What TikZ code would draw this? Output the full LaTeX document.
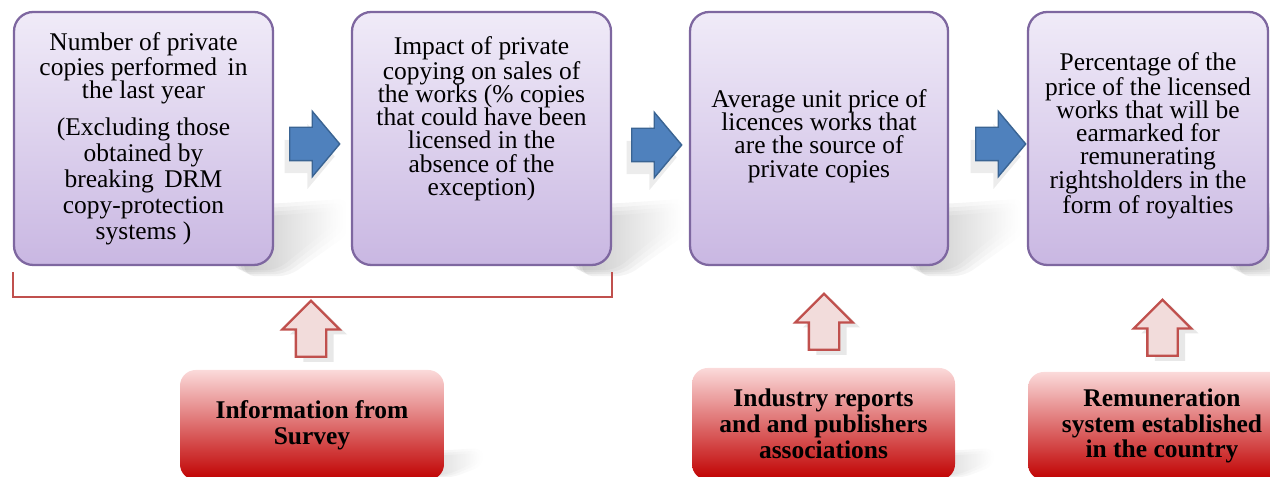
\documentclass[tikz,border=0pt]{standalone}
\usepackage{fontspec}
\setmainfont{Liberation Serif}
\usetikzlibrary{positioning,shadows,shapes.arrows,calc,backgrounds}
\definecolor{lilactop}{HTML}{F0EBF8}
\definecolor{lilacbot}{HTML}{C9B7E2}
\definecolor{lilacline}{HTML}{7E67A0}
\definecolor{stepblue}{HTML}{4F81BD}
\definecolor{stepblueline}{HTML}{3A6493}
\definecolor{pinkfill}{HTML}{F2DCDB}
\definecolor{redline}{HTML}{C0504D}
\definecolor{redtop}{HTML}{FBDADA}
\definecolor{redbot}{HTML}{C00000}

\begin{document}
\begin{tikzpicture}[
    infobox/.style={rectangle, rounded corners=11pt, draw=lilacline, line width=1.3pt,
      top color=lilactop, bottom color=lilacbot, minimum height=5.06cm},
    infotext/.style={align=center, inner sep=0pt, font=\fontsize{14.5}{13.2}\selectfont},
    srcbox/.style={rectangle, rounded corners=9pt, top color=redtop, bottom color=redbot,
      align=center, font=\bfseries\fontsize{14.5}{14.7}\selectfont},
    boxshadow/.style={left color=black!55, right color=white, draw=none, opacity=.12,
      rounded corners=6pt},
    nextarrow/.style={single arrow, anchor=tail, draw=stepblueline, fill=stepblue, line width=.8pt,
      single arrow head extend=.32cm, single arrow tip angle=100, minimum height=1cm,
      inner xsep=0pt, inner ysep=.32cm,
      drop shadow={shadow xshift=-.1cm, shadow yshift=-.25cm, opacity=.12, fill=black!60}},
    srcarrow/.style={single arrow, anchor=tail, rotate=90, draw=redline, fill=pinkfill, line width=1.3pt,
      single arrow head extend=.27cm, minimum height=1.12cm, inner xsep=0pt, inner ysep=.28cm,
      drop shadow={shadow xshift=.15cm, shadow yshift=-.1cm, opacity=.15, fill=black!60}}
  ]
  \clip (0,0) rectangle (25.4,9.54);
  %boxes
  \node[infobox, minimum width=5.18cm] (b1) at (2.87, 6.77) {};
  \node[infobox, minimum width=5.18cm] (b2) at (9.63, 6.77) {};
  \node[infobox, minimum width=5.16cm] (b3) at (16.38, 6.77) {};
  \node[infobox, minimum width=4.8cm] (b4) at (22.96, 6.77) {};
  \node[infotext] (t1) at (b1.center) {Number of private\\copies performed\, in\\the last year\\[8pt]
    (Excluding those\\[1.5pt]obtained by\\[1.5pt]breaking\, DRM\\[1.5pt]copy-protection\\[1.5pt]systems )};
  \node[infotext] (t2) at ([yshift=.4cm]b2.center) {Impact of private\\copying on sales of\\the works (\% copies\\that could have been\\licensed in the\\absence of the\\exception)};
  \node[infotext] (t3) at ([yshift=.05cm]b3.center) {Average unit price of\\licences works that\\are the source of\\private copies};
  \node[infotext] (t4) at ([yshift=.06cm]b4.center) {Percentage of the\\price of the licensed\\works that will be\\earmarked for\\remunerating\\rightsholders in the\\form of royalties};
  %flow arrows
  \node[nextarrow] (a1) at (5.78, 6.66) {};
  \node[nextarrow] (a2) at (12.62, 6.64) {};
  \node[nextarrow] (a3) at (19.5, 6.66) {};
  %bracket
  \draw[redline, line width=1.3pt] ([yshift=-.12cm]b1.south west) -- ++(0,-.5)
    -| ([yshift=-.12cm]b2.south east);
  %sources
  \node[srcarrow] (u1) at (6.22, 2.38) {};
  \node[srcarrow] (u2) at (16.48, 2.52) {};
  \node[srcarrow] (u3) at (23.25, 2.4) {};
  \node[srcbox, minimum width=5.28cm, minimum height=2.2cm] (r1) at (6.24, 1.04) {Information from\\Survey};
  \node[srcbox, minimum width=5.26cm, minimum height=2.24cm] (r2) at (16.47, 1.06) {Industry reports\\and and publishers\\associations};
  \node[srcbox, minimum width=5.36cm, minimum height=2.16cm] (r3) at (23.24, 1.02) {Remuneration\\system established\\in the country};
  %shadows (soft, layered)
  \begin{scope}[on background layer]
    \foreach \b in {b1,b2,b3,b4}
      \foreach \s in {0,.08,.16,.24}
        \shade[boxshadow] ($(\b.south east)+(-.6,1.25-\s)$) -- ++(.6,0) -- ++(1.5-\s,.1)
          -- ++(0,-.7+2*\s) -- ($(\b.south east)+(.3-\s,-.2+\s/2)$) -- ++(-.9,0) -- cycle;
    \foreach \r in {r1,r2}
      \foreach \s in {0,.05,.1}
        \shade[boxshadow] ($(\r.south east)+(-.5,.6-\s)$) -- ++(.5,0) -- ++(.8-\s,.05)
          -- ++(0,-.35+2*\s) -- ($(\r.south east)+(.15-\s,.05+\s/2)$) -- ++(-.65,0) -- cycle;
  \end{scope}
\end{tikzpicture}
\end{document}
